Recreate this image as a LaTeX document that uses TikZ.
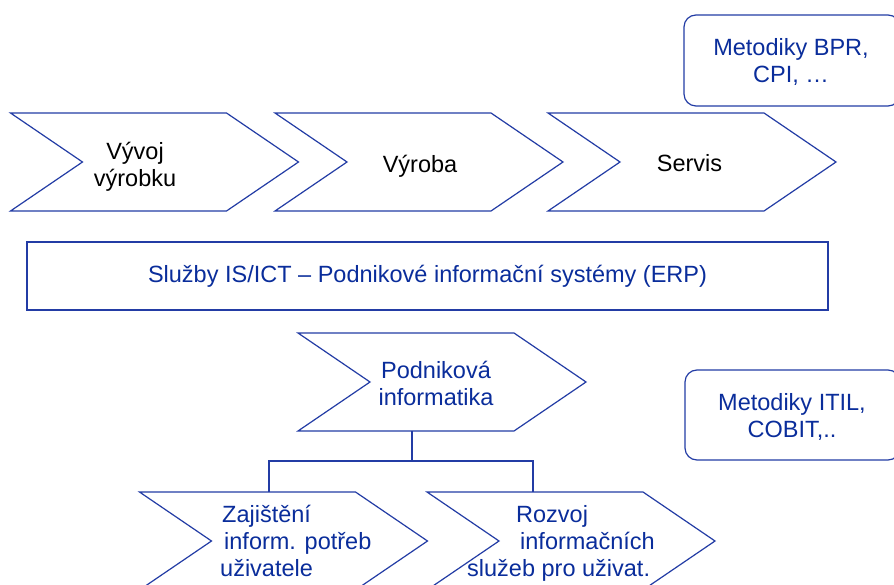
\documentclass[tikz,border=0pt]{standalone}
\usepackage{fontspec}
\setmainfont{Liberation Sans}
\definecolor{linec}{RGB}{35,60,165}
\definecolor{txtc}{RGB}{10,45,155}
\newcommand\drawchev[1]{\draw[chevline] (#1.north west) -- ([xshift=-72pt]#1.north east) -- (#1.east) -- ([xshift=-72pt]#1.south east) -- (#1.south west) -- ([xshift=72pt]#1.west) -- cycle;}
\begin{document}
\begin{tikzpicture}[x=1pt,y=-1pt,
  chevron/.style={minimum width=288pt, minimum height=98pt, inner sep=0pt, outer sep=0pt},
  chevline/.style={draw=linec, line width=1.2pt, line join=miter},
  txt/.style={inner sep=0pt, font=\fontsize{23.5}{27}\selectfont, align=center},
  bluetxt/.style={txt, text=txtc},
  mbox/.style={draw=linec, line width=1.2pt, rounded corners=12pt, inner sep=0pt, outer sep=0pt},
  sqbox/.style={draw=linec, line width=1.2pt, inner sep=0pt, outer sep=0pt},
  conn/.style={draw=linec, line width=1.2pt}]
\path[use as bounding box, clip] (0,0) rectangle (894,585);
\fill[white] (0,0) rectangle (894,585);

% top value chain
\node[chevron] (c1) at (154.5,162) {};
\node[chevron] (c2) at (419,162) {};
\node[chevron] (c3) at (692,162) {};
\drawchev{c1}
\drawchev{c2}
\drawchev{c3}
\node[txt] (c1t) at (135,167.6) {\strut Vývoj\\\strut výrobku};
\node[txt] (c2t) at (420,167.1) {\strut Výroba};
\node[txt] (c3t) at (689.5,166.6) {\strut Servis};

% methodology boxes
\node[mbox, minimum width=216pt, minimum height=91pt] (bpr) at (792,60.5) {};
\node[bluetxt] (bprt) at (791,63.3) {\strut Metodiky BPR,\\\strut CPI, …};
\node[mbox, minimum width=215pt, minimum height=90pt] (itil) at (792.5,415) {};
\node[bluetxt] (itilt) at (792,418.3) {\strut Metodiky ITIL,\\\strut COBIT,..};

% ERP bar
\node[sqbox, minimum width=801pt, minimum height=68pt, font=\fontsize{23.5}{27}\selectfont, text=txtc] (erp) at (427.5,276)
  {Služby IS/ICT – Podnikové informační systémy (ERP)};

% enterprise informatics
\node[chevron] (podn) at (442,382) {};
\drawchev{podn}
\node[bluetxt] (podnt) at (436,386.6) {\strut Podniková\\\strut informatika};

\node[chevron] (zaj) at (283.5,541) {};
\node[chevron] (roz) at (571,541) {};
\drawchev{zaj}
\drawchev{roz}
\node[bluetxt, align=left, anchor=west] (zajt) at (220,543.6)
  {\strut\hspace*{2pt}Zajištění\\\strut\hspace*{4pt}inform. potřeb\\\strut uživatele};
\node[bluetxt, align=left, anchor=west] (rozt) at (467,543.6)
  {\strut\hspace*{49pt}Rozvoj\\\strut\hspace*{53pt}informačních\\\strut služeb pro uživat.};

% connectors
\coordinate (j) at (412,461);
\coordinate (jl) at (269,461);
\coordinate (jr) at (533,461);
\draw[conn] (podn.south -| j) -- (j);
\draw[conn] (jl |- zaj.north) -- (jl) -- (jr) -- (jr |- roz.north);
\end{tikzpicture}
\end{document}
